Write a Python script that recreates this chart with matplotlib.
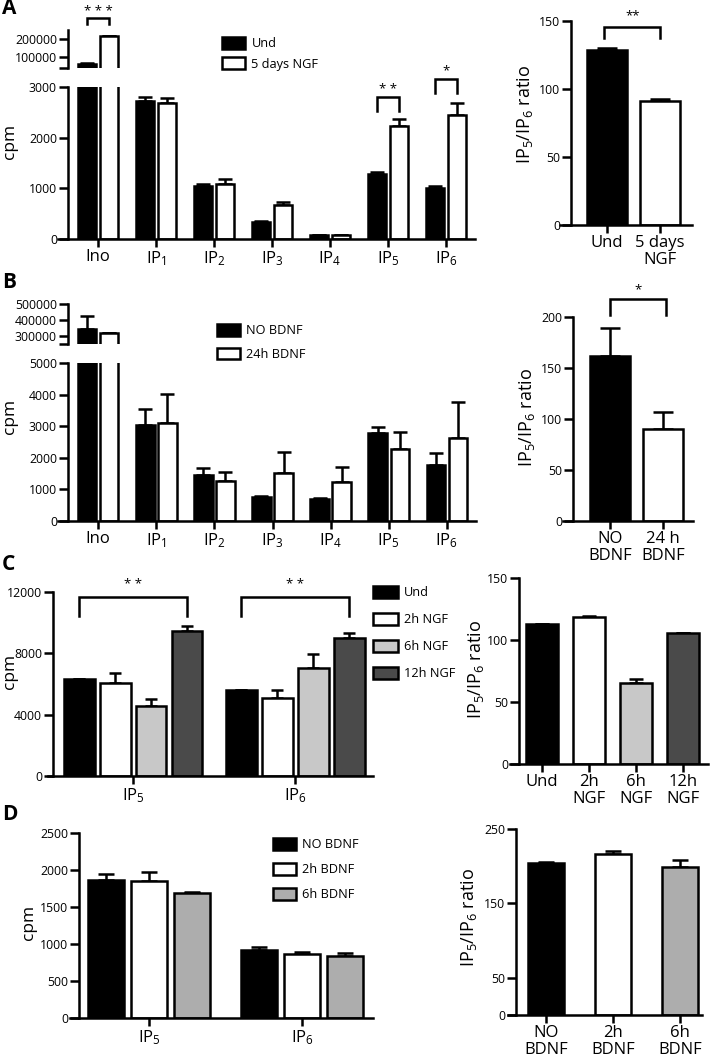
import matplotlib
matplotlib.use('Agg')
import matplotlib.pyplot as plt
from matplotlib.patches import Patch

plt.rcParams['font.family'] = ['Open Sans', 'DejaVu Sans']
plt.rcParams['mathtext.default'] = 'regular'

W, H = 712, 1063

# ---------------- data ----------------
# panel A: 5 days NGF
a_labels = ['Ino', 'IP$_1$', 'IP$_2$', 'IP$_3$', 'IP$_4$', 'IP$_5$', 'IP$_6$']
a_und = [60000, 2720, 1050, 330, 80, 1280, 1005]
a_und_err = [8000, 80, 35, 30, 5, 40, 40]
a_ngf = [215000, 2690, 1085, 670, 80, 2230, 2450]
a_ngf_err = [4000, 90, 100, 60, 5, 130, 240]
a_ratio_labels = ['Und', '5 days\nNGF']
a_ratio = [128.7, 91.0]
a_ratio_err = [1.2, 1.8]

# panel B: 24h BDNF
b_labels = a_labels
b_no = [345000, 3040, 1455, 760, 700, 2780, 1770]
b_no_err = [80000, 505, 225, 20, 20, 195, 380]
b_24 = [318000, 3100, 1265, 1520, 1230, 2270, 2630]
b_24_err = [3000, 920, 285, 660, 480, 545, 1140]
b_ratio_labels = ['NO\nBDNF', '24 h\nBDNF']
b_ratio = [162, 90]
b_ratio_err = [27, 17]

# panel C: NGF time course
c_labels = ['IP$_5$', 'IP$_6$']
c_series = ['Und', '2h NGF', '6h NGF', '12h NGF']
c_vals = [[6300, 5600], [6070, 5090], [4570, 7050], [9460, 9000]]
c_errs = [[50, 40], [650, 520], [450, 910], [330, 330]]
c_ratio_labels = ['Und', '2h\nNGF', '6h\nNGF', '12h\nNGF']
c_ratio = [113, 118.5, 65.5, 105.5]
c_ratio_err = [0.3, 0.5, 3, 0.3]

# panel D: BDNF time course
d_labels = ['IP$_5$', 'IP$_6$']
d_series = ['NO BDNF', '2h BDNF', '6h BDNF']
d_vals = [[1865, 919], [1851, 865], [1689, 838]]
d_errs = [[80, 45], [120, 30], [10, 40]]
d_ratio_labels = ['NO\nBDNF', '2h\nBDNF', '6h\nBDNF']
d_ratio = [204, 216, 199]
d_ratio_err = [1, 5, 9]

c_colors = ['black', 'white', '#c8c8c8', '#4a4a4a']
d_colors = ['black', 'white', '#adadad']

LW = 1.8
fig = plt.figure(figsize=(W / 100, H / 100), dpi=100)


def add_ax(x0, y0, x1, y1, spine_px):
    ax = fig.add_axes([x0 / W, 1 - y1 / H, (x1 - x0) / W, (y1 - y0) / H])
    for s in ['top', 'right']:
        ax.spines[s].set_visible(False)
    for s in ['left', 'bottom']:
        ax.spines[s].set_linewidth(LW)
    ax.spines['left'].set_position(('axes', (spine_px - x0) / (x1 - x0)))
    ax.tick_params(axis='y', direction='out', length=6.5, width=LW, labelsize=8.8, pad=1.5)
    ax.tick_params(axis='x', direction='out', length=5.5, width=LW, labelsize=12, pad=2)
    ax.patch.set_visible(False)
    return ax


def bars(ax, x, vals, errs, color, width, cap):
    ax.bar(x, vals, width, color=color, edgecolor='black', linewidth=LW, zorder=2)
    ax.errorbar(x, vals, yerr=[[0] * len(errs), errs], fmt='none', ecolor='black',
                elinewidth=LW, capsize=cap, capthick=LW, zorder=1)


def bracket(ax, xa, xb, y_top, y_leg, stars, y_star, fs=9.5):
    ax.plot([xa, xa, xb, xb], [y_leg, y_top, y_top, y_leg], color='black', lw=LW,
            clip_on=False, solid_joinstyle='miter')
    ax.text((xa + xb) / 2, y_star, stars, ha='center', va='center', fontsize=fs, clip_on=False)


def legend(handles_lbls, x, y, hl, hh, spacing):
    hs = [Patch(facecolor=c, edgecolor='black', linewidth=LW) for c, _ in handles_lbls]
    fig.legend(hs, [l for _, l in handles_lbls], loc='upper left',
               bbox_to_anchor=(x / W, 1 - y / H), frameon=False, fontsize=9.2,
               handlelength=hl, handleheight=hh, labelspacing=spacing,
               handletextpad=0.5, borderpad=0, borderaxespad=0)


def ylab(x, y, text, fs):
    fig.text(x / W, 1 - y / H, text, rotation=90, ha='center', va='center', fontsize=fs)


def broken_panel(top_box, low_box, top_lim, top_ticks, top_tlabels, low_lim, low_ticks,
                 labels, s1, e1, s2, e2):
    x = list(range(len(labels)))
    xl = (-0.69, 6.5)
    up = add_ax(*top_box, 68)
    lo = add_ax(*low_box, 68)
    for ax, lim in [(up, top_lim), (lo, low_lim)]:
        bars(ax, [i - 0.19 for i in x], s1, e1, 'black', 0.32, 5)
        bars(ax, [i + 0.19 for i in x], s2, e2, 'white', 0.32, 5)
        ax.set_xlim(*xl)
        ax.set_ylim(*lim)
    up.spines['bottom'].set_visible(False)
    up.tick_params(axis='x', bottom=False, labelbottom=False)
    up.set_yticks(top_ticks)
    up.set_yticklabels(top_tlabels)
    lo.set_yticks(low_ticks)
    lo.set_xticks(x)
    lo.set_xticklabels(labels)
    return up, lo


# ---------------- panel A ----------------
a_up, a_lo = broken_panel((58, 30, 475, 68), (58, 87, 475, 239), (38900, 250000),
                          [38900, 100000, 200000], ['', '100000', '200000'],
                          (0, 3000), [0, 1000, 2000, 3000], a_labels,
                          a_und, a_und_err, a_ngf, a_ngf_err)
bracket(a_up, -0.19, 0.19, 316000, 283000, '* * *', 350000)
bracket(a_lo, 5 - 0.19, 5 + 0.19, 2800, 2525, '* *', 2960)
bracket(a_lo, 6 - 0.19, 6 + 0.19, 3155, 2880, '*', 3310)
ylab(10, 141, 'cpm', 12.5)
legend([('black', 'Und'), ('white', '5 days NGF')], 222, 37, 1.8, 1.05, 0.55)

ar = add_ax(560, 21, 692, 225, 571)
bars(ar, [0], [a_ratio[0]], [a_ratio_err[0]], 'black', 0.77, 7)
bars(ar, [1], [a_ratio[1]], [a_ratio_err[1]], 'white', 0.77, 7)
ar.set_xlim(-0.887, 1.604)
ar.set_ylim(0, 150)
ar.set_yticks([0, 50, 100, 150])
ar.set_xticks([0, 1])
ar.set_xticklabels(a_ratio_labels, linespacing=1.05)
bracket(ar, -0.05, 1.0, 145.6, 137.5, '**', 154)
ylab(525, 115, 'IP$_5$/IP$_6$ ratio', 13)

# ---------------- panel B ----------------
b_up, b_lo = broken_panel((58, 304, 476, 344), (58, 363, 476, 521), (250000, 500000),
                          [250000, 300000, 400000, 500000], ['', '300000', '400000', '500000'],
                          (0, 5000), [0, 1000, 2000, 3000, 4000, 5000], b_labels,
                          b_no, b_no_err, b_24, b_24_err)
ylab(10, 416, 'cpm', 12.5)
legend([('black', 'NO BDNF'), ('white', '24h BDNF')], 217, 324, 1.8, 1.05, 0.8)

br = add_ax(563, 317, 693, 521, 573)
bars(br, [0], [b_ratio[0]], [b_ratio_err[0]], 'black', 0.74, 7)
bars(br, [1], [b_ratio[1]], [b_ratio_err[1]], 'white', 0.74, 7)
br.set_xlim(-0.887, 1.566)
br.set_ylim(0, 200)
br.set_yticks([0, 50, 100, 150, 200])
br.set_xticks([0, 1])
br.set_xticklabels(b_ratio_labels, linespacing=1.05)
bracket(br, 0, 1.06, 217.6, 202, '*', 227)
ylab(527, 418, 'IP$_5$/IP$_6$ ratio', 13)

# ---------------- panel C ----------------
cl = add_ax(48, 592, 373, 776, 53)
c_off = [-0.333, -0.111, 0.111, 0.333]
for k in range(4):
    bars(cl, [i + c_off[k] for i in range(2)], c_vals[k], c_errs[k], c_colors[k], 0.19, 4)
cl.set_xlim(-0.525, 1.48)
cl.set_ylim(0, 12000)
cl.set_yticks([0, 4000, 8000, 12000])
cl.set_xticks([0, 1])
cl.set_xticklabels(c_labels)
bracket(cl, -0.333, 0.333, 11680, 10440, '* *', 12500)
bracket(cl, 1 - 0.333, 1.333, 11680, 10440, '* *', 12500)
ylab(10, 671, 'cpm', 12.5)
legend(list(zip(c_colors, c_series)), 373, 586, 1.95, 1.1, 1.05)

cr = add_ax(510, 578, 708, 764, 519)
for k in range(4):
    bars(cr, [k], [c_ratio[k]], [c_ratio_err[k]], c_colors[k], 0.68, 5)
cr.set_xlim(-0.68, 3.53)
cr.set_ylim(0, 150)
cr.set_yticks([0, 50, 100, 150])
cr.set_xticks(range(4))
cr.set_xticklabels(c_ratio_labels, linespacing=1.05)
ylab(476, 670, 'IP$_5$/IP$_6$ ratio', 13)

# ---------------- panel D ----------------
dl = add_ax(70, 833, 373, 1018, 79)
d_off = [-0.28, 0, 0.28]
for k in range(3):
    bars(dl, [i + d_off[k] for i in range(2)], d_vals[k], d_errs[k], d_colors[k], 0.235, 6)
dl.set_xlim(-0.516, 1.464)
dl.set_ylim(0, 2500)
dl.set_yticks([0, 500, 1000, 1500, 2000, 2500])
dl.set_xticks([0, 1])
dl.set_xticklabels(d_labels)
ylab(29, 922, 'cpm', 12.5)
legend(list(zip(d_colors, d_series)), 273, 838, 1.8, 1.1, 0.9)

dr = add_ax(508, 829, 702, 1015, 516)
for k in range(3):
    bars(dr, [k], [d_ratio[k]], [d_ratio_err[k]], d_colors[k], 0.55, 6)
dr.set_xlim(-0.567, 2.328)
dr.set_ylim(0, 250)
dr.set_yticks([0, 50, 150, 250])
dr.set_xticks(range(3))
dr.set_xticklabels(d_ratio_labels, linespacing=1.05)
ylab(469, 918, 'IP$_5$/IP$_6$ ratio', 13)

# panel letters
for letter, y in [('A', 9), ('B', 283), ('C', 565), ('D', 815)]:
    fig.text(2 / W, 1 - y / H, letter, fontsize=15, fontweight='bold', va='center', ha='left')

fig.savefig('out.png', dpi=100)
